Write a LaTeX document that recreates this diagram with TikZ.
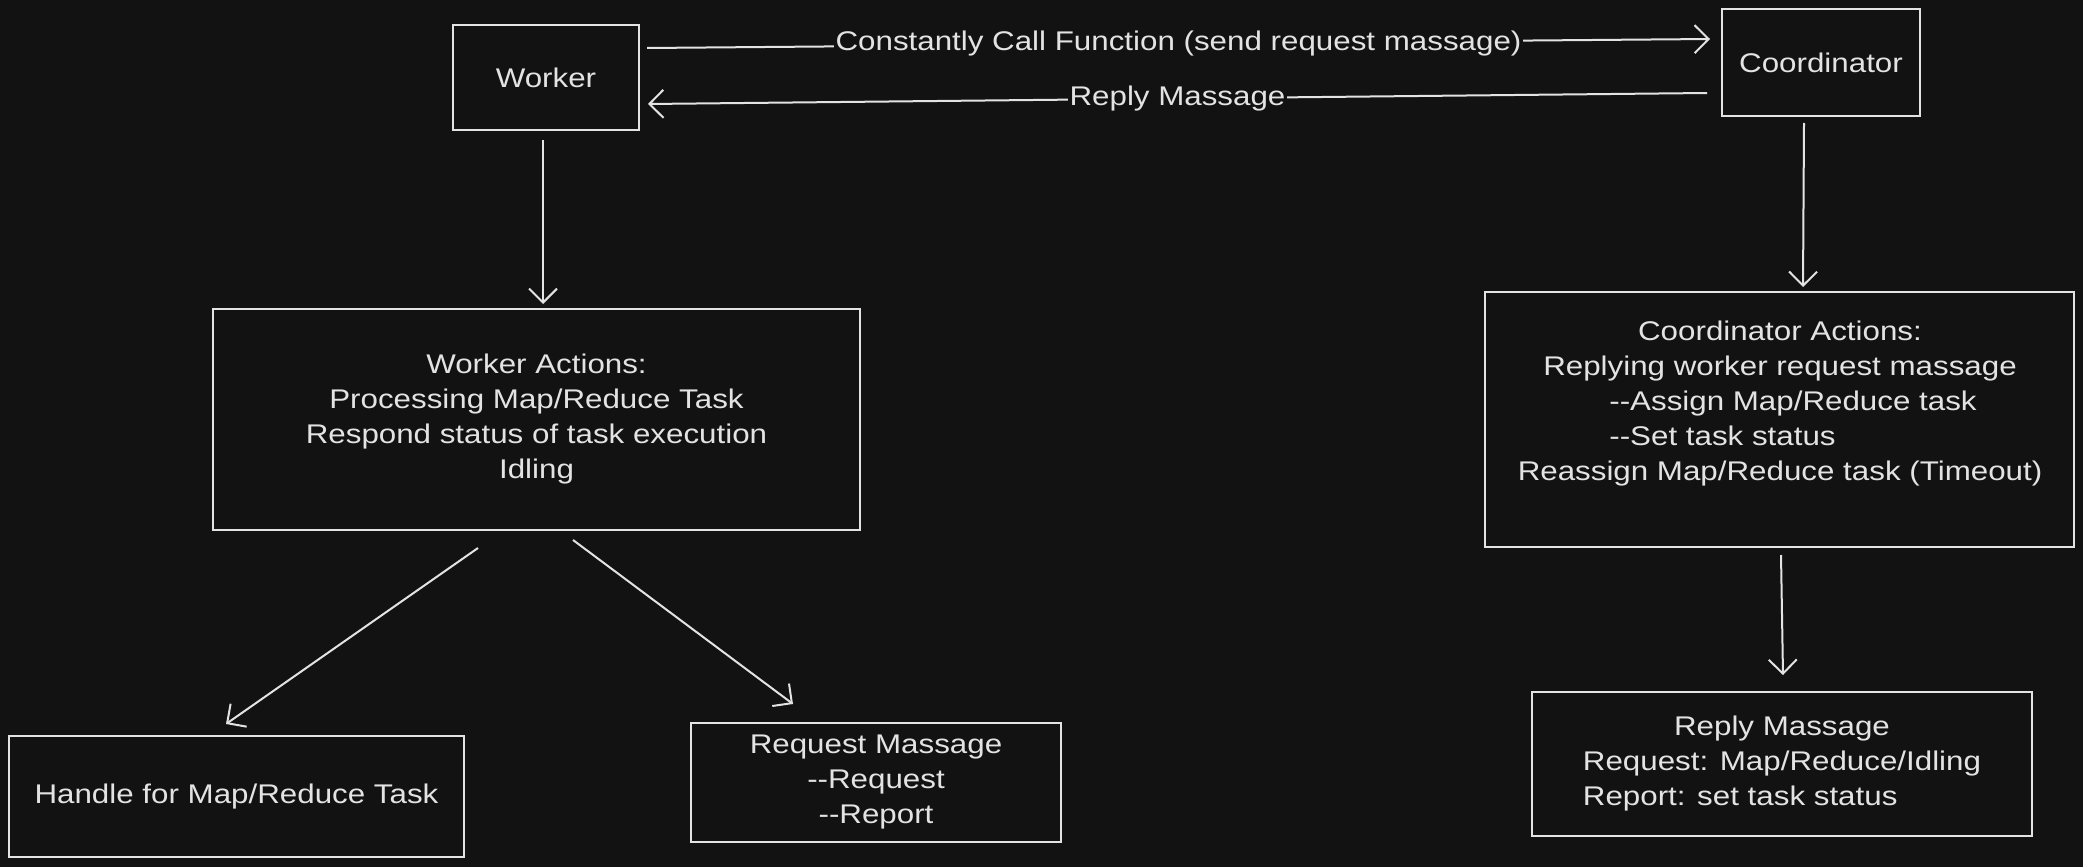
\documentclass[tikz,border=0pt]{standalone}
\usepackage{fontspec}
\setmainfont[FakeStretch=1.16]{Liberation Sans}
\usetikzlibrary{arrows.meta}
\definecolor{bg}{HTML}{121212}
\definecolor{fg}{HTML}{E3E3E3}
\begin{document}
\begin{tikzpicture}[x=0.5pt,y=-0.5pt,
  box/.style={draw=fg, line width=1pt, rectangle, text=fg, font=\fontsize{13.5}{17.5}\selectfont, align=center},
  txt/.style={text=fg, font=\fontsize{13.5}{17.5}\selectfont, align=center},
  arr/.style={draw=fg, line width=1pt, -{Straight Barb[length=7pt,width=14pt,line width=1pt]}},
  lbl/.style={txt, fill=bg, inner sep=1pt}]
\fill[bg] (0,0) rectangle (2083,867);
\useasboundingbox (0,0) rectangle (2083,867);

\node[box, minimum width=93pt, minimum height=52.5pt] (wk) at (546,77.5) {Worker};
\node[box, minimum width=99pt, minimum height=53.5pt] (co) at (1821,62.5) {Coordinator};
\node[box, minimum width=323.5pt, minimum height=110.5pt] (wa) at (536.5,419.5)
  {Worker Actions:\\Processing Map/Reduce Task\\Respond status of task execution\\Idling};
\node[box, minimum width=294.5pt, minimum height=127.5pt] (ca) at (1779.5,419.5) {};
\node[txt] (catext) at (1780,404)
  {Coordinator Actions:\\Replying worker request massage\\
   \hspace*{13pt}-{}-Assign Map/Reduce task\\
   \hspace*{13pt}\rlap{-{}-Set task status}\phantom{-{}-Assign Map/Reduce task}\\
   Reassign Map/Reduce task (Timeout)};
\node[box, minimum width=227.5pt, minimum height=60.5pt] (hd) at (236.5,796.5) {Handle for Map/Reduce Task};
\node[box, minimum width=185pt, minimum height=59.5pt] (rq) at (876,782.5)
  {Request Massage\\-{}-Request\\-{}-Report};
\node[box, minimum width=250pt, minimum height=72pt] (rp) at (1782,764)
  {Reply Massage\\Request: Map/Reduce/Idling\\\rlap{Report: set task status}\phantom{Request: Map/Reduce/Idling}};

\draw[arr] ([xshift=3.5pt,yshift=-12pt]wk.north east) -- node[lbl] (l1) {Constantly Call Function (send request massage)} ([xshift=-5.5pt,yshift=-15.5pt]co.north west);
\draw[arr] ([xshift=-7pt,yshift=-42.5pt]co.north west) -- node[lbl] (l2) {Reply Massage} ([xshift=4pt,yshift=-40pt]wk.north east);
\draw[arr] ([xshift=-1.5pt,yshift=-4.5pt]wk.south) -- ([xshift=3.25pt,yshift=2pt]wa.north);
\draw[arr] ([xshift=-8.5pt,yshift=-3pt]co.south) -- ([xshift=11.75pt,yshift=2pt]ca.north);
\draw[arr] ([xshift=-29.25pt,yshift=-8.5pt]wa.south) -- ([xshift=-5.25pt,yshift=5.5pt]hd.north);
\draw[arr] ([xshift=18.25pt,yshift=-4.5pt]wa.south) -- ([xshift=-41.5pt,yshift=9pt]rq.north);
\draw[arr] ([xshift=0.75pt,yshift=-3.5pt]ca.south) -- ([xshift=0.5pt,yshift=8pt]rp.north);
\end{tikzpicture}
\end{document}
